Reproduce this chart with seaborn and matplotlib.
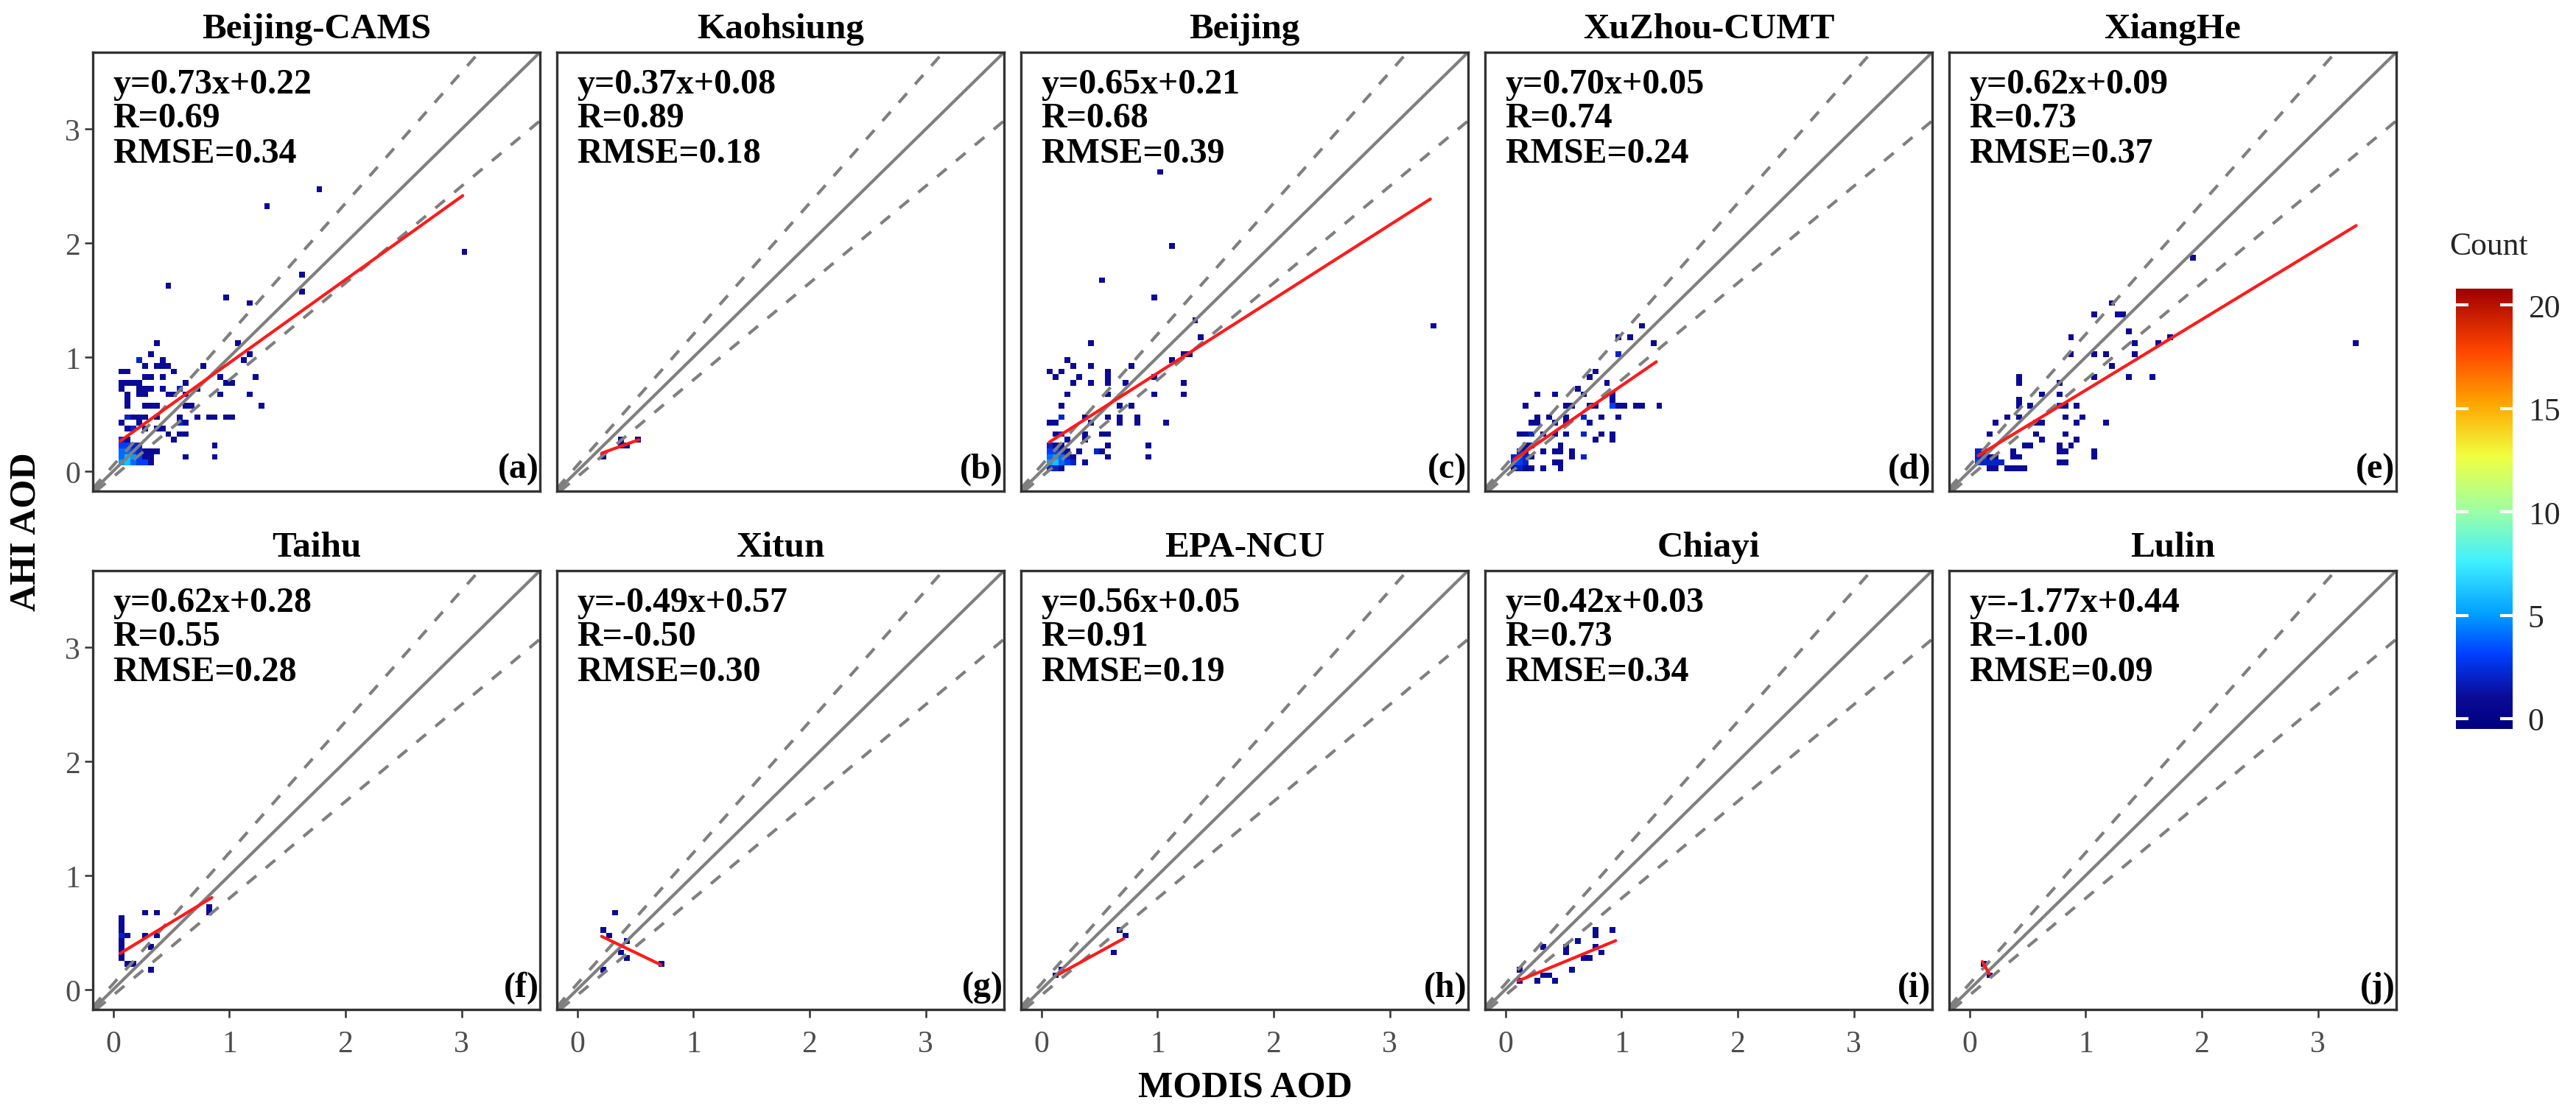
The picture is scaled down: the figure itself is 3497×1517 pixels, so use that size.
import numpy as np
import pandas as pd
import seaborn as sns
import matplotlib.pyplot as plt
from matplotlib.colors import LinearSegmentedColormap, Normalize
from matplotlib.cm import ScalarMappable

# site names, fit stats and panel tags
sites = ["Beijing-CAMS", "Kaohsiung", "Beijing", "XuZhou-CUMT", "XiangHe",
         "Taihu", "Xitun", "EPA-NCU", "Chiayi", "Lulin"]
slopes = [0.73, 0.37, 0.65, 0.70, 0.62, 0.62, -0.49, 0.56, 0.42, -1.77]
intercepts = [0.22, 0.08, 0.21, 0.05, 0.09, 0.28, 0.57, 0.05, 0.03, 0.44]
r_vals = [0.69, 0.89, 0.68, 0.74, 0.73, 0.55, -0.50, 0.91, 0.73, -1.00]
rmse_vals = [0.34, 0.18, 0.39, 0.24, 0.37, 0.28, 0.30, 0.19, 0.34, 0.09]
tags = ["(a)", "(b)", "(c)", "(d)", "(e)", "(f)", "(g)", "(h)", "(i)", "(j)"]

# binned cells: (MODIS AOD, AHI AOD, count)
beijing_cams = [
    (0.075, 0.075, 5), (0.125, 0.075, 6), (0.175, 0.075, 4), (0.225, 0.075, 3),
    (0.075, 0.125, 4), (0.125, 0.125, 6), (0.175, 0.125, 5), (0.225, 0.125, 3),
    (0.075, 0.175, 4), (0.125, 0.175, 4), (0.175, 0.175, 3), (0.225, 0.175, 2),
    (0.075, 0.225, 3), (0.125, 0.225, 3), (0.175, 0.225, 2), (0.225, 0.225, 2),
    (0.275, 0.075, 2), (0.275, 0.125, 1), (0.325, 0.175, 1), (0.075, 0.275, 2),
    (0.125, 0.275, 1), (0.29, 0.17, 1), (0.38, 0.17, 1), (0.35, 0.10, 1),
    (0.29, 0.05, 1), (0.34, 0.05, 1),
    (0.48, 1.63, 1), (0.99, 1.53, 1), (1.19, 1.49, 1), (1.64, 1.71, 1),
    (1.60, 1.58, 1), (1.09, 1.15, 1), (1.13, 0.98, 1), (1.18, 1.0, 1),
    (1.24, 0.83, 1), (1.19, 0.65, 1), (1.28, 0.60, 1), (1.04, 0.78, 1),
    (0.97, 0.77, 1), (0.90, 0.65, 1), (0.95, 0.83, 1), (0.76, 0.91, 1),
    (0.71, 0.72, 1), (0.72, 0.49, 1), (0.80, 0.49, 1), (0.86, 0.45, 1),
    (0.99, 0.49, 1), (1.04, 0.45, 1), (0.86, 0.22, 1), (0.87, 0.11, 1),
    (0.63, 0.11, 1), (0.39, 1.12, 1), (0.35, 1.03, 1), (0.21, 0.97, 2),
    (0.25, 0.92, 1), (0.43, 0.97, 1), (0.43, 0.91, 1), (0.39, 0.91, 1),
    (0.48, 0.91, 1), (0.54, 0.86, 1), (0.07, 0.86, 1), (0.12, 0.86, 1),
    (0.25, 0.83, 1), (0.35, 0.83, 1), (0.43, 0.83, 1), (0.06, 0.78, 1),
    (0.12, 0.78, 1), (0.18, 0.78, 1), (0.23, 0.78, 1), (0.06, 0.73, 1),
    (0.20, 0.73, 1), (0.26, 0.73, 1), (0.35, 0.73, 1), (0.43, 0.73, 1),
    (0.49, 0.70, 1), (0.55, 0.73, 1), (0.59, 0.73, 1), (0.63, 0.78, 1),
    (0.12, 0.68, 1), (0.12, 0.63, 1), (0.12, 0.58, 1), (0.20, 0.69, 1),
    (0.25, 0.65, 1), (0.54, 0.65, 1), (0.63, 0.68, 1), (0.68, 0.59, 1),
    (0.62, 0.55, 1), (0.26, 0.55, 1), (0.31, 0.55, 1), (0.36, 0.55, 1),
    (0.06, 0.41, 1), (0.11, 0.46, 2), (0.17, 0.45, 1), (0.21, 0.45, 1),
    (0.29, 0.45, 1), (0.37, 0.45, 1), (0.11, 0.36, 1), (0.16, 0.36, 2),
    (0.21, 0.40, 1), (0.30, 0.36, 1), (0.36, 0.36, 1), (0.44, 0.36, 1),
    (0.48, 0.32, 1), (0.54, 0.27, 1), (0.59, 0.31, 1), (0.63, 0.35, 1),
    (0.59, 0.48, 1), (0.59, 0.42, 1), (0.55, 0.42, 1), (0.64, 0.42, 1),
    (1.75, 2.47, 1), (1.32, 2.33, 1), (3.01, 1.92, 1),
]
kaohsiung = [
    (0.21, 0.14, 1), (0.36, 0.22, 1), (0.38, 0.27, 1), (0.41, 0.22, 1),
    (0.53, 0.27, 1),
]
beijing = [
    (0.075, 0.075, 5), (0.125, 0.075, 6), (0.175, 0.075, 4), (0.225, 0.075, 3),
    (0.275, 0.075, 2), (0.075, 0.125, 4), (0.125, 0.125, 5), (0.175, 0.125, 4),
    (0.225, 0.125, 2), (0.275, 0.125, 1), (0.075, 0.175, 3), (0.125, 0.175, 3),
    (0.175, 0.175, 2), (0.225, 0.175, 1), (0.075, 0.025, 2), (0.125, 0.025, 2),
    (0.175, 0.025, 1), (0.325, 0.175, 1), (0.075, 0.225, 2), (0.125, 0.225, 1),
    (0.175, 0.225, 1),
    (0.54, 1.67, 1), (0.97, 1.53, 1), (1.30, 1.33, 1), (1.35, 1.20, 1),
    (0.41, 1.11, 1), (1.21, 1.03, 1), (1.26, 1.03, 1), (1.15, 0.97, 1),
    (0.21, 0.97, 1), (0.26, 0.91, 1), (0.09, 0.86, 1), (0.18, 0.86, 1),
    (0.13, 0.82, 1), (0.31, 0.83, 1), (0.26, 0.78, 1), (0.41, 0.91, 1),
    (0.41, 0.78, 1), (0.59, 0.87, 1), (0.55, 0.82, 1), (0.55, 0.78, 1),
    (0.78, 0.91, 1), (0.74, 0.78, 1), (0.97, 0.83, 1), (1.21, 0.78, 1),
    (0.22, 0.69, 1), (0.18, 0.60, 1), (0.55, 0.65, 1), (0.75, 0.60, 1),
    (0.70, 0.55, 1), (0.97, 0.65, 1), (1.21, 0.65, 1), (0.60, 0.49, 1),
    (0.70, 0.49, 1), (0.82, 0.49, 1), (1.07, 0.44, 1), (0.82, 0.40, 1),
    (0.65, 0.40, 1), (0.17, 0.45, 2), (0.11, 0.41, 1), (0.07, 0.41, 1),
    (0.37, 0.45, 1), (0.41, 0.44, 1), (0.13, 0.31, 1), (0.19, 0.35, 2),
    (0.23, 0.29, 1), (0.36, 0.35, 1), (0.37, 0.29, 1), (0.51, 0.35, 1),
    (0.60, 0.31, 1), (0.60, 0.22, 1), (0.60, 0.11, 1), (0.46, 0.17, 2),
    (0.51, 0.17, 1), (0.92, 0.22, 1), (0.92, 0.11, 1), (0.37, 0.05, 1),
    (1.02, 2.65, 1), (1.10, 1.98, 1), (3.35, 1.27, 1),
]
xuzhou = [
    (0.075, 0.075, 3), (0.125, 0.075, 3), (0.175, 0.075, 2), (0.075, 0.125, 2),
    (0.125, 0.125, 3), (0.175, 0.125, 2), (0.225, 0.125, 1), (0.125, 0.175, 2),
    (0.175, 0.175, 1), (0.225, 0.225, 1), (0.075, 0.025, 1), (0.125, 0.025, 2),
    (0.175, 0.025, 1), (0.225, 0.025, 1),
    (1.17, 1.25, 1), (0.98, 1.20, 1), (1.06, 1.20, 1), (1.25, 1.15, 1),
    (0.97, 1.03, 2), (0.75, 0.86, 1), (0.74, 0.82, 1), (0.89, 0.78, 1),
    (0.64, 0.73, 1), (0.29, 0.69, 1), (0.42, 0.65, 1), (0.70, 0.65, 1),
    (0.91, 0.69, 1), (0.95, 0.64, 1), (0.18, 0.55, 1), (0.50, 0.60, 1),
    (0.60, 0.60, 1), (0.72, 0.57, 1), (0.78, 0.58, 1), (0.91, 0.59, 1),
    (0.91, 0.55, 2), (0.97, 0.55, 1), (1.01, 0.59, 1), (0.98, 0.49, 1),
    (1.13, 0.56, 1), (1.17, 0.60, 1), (1.30, 0.60, 1), (0.29, 0.49, 1),
    (0.52, 0.49, 1), (0.65, 0.49, 1), (0.65, 0.45, 1), (0.37, 0.45, 1),
    (0.41, 0.40, 1), (0.23, 0.40, 1), (0.28, 0.40, 1), (0.53, 0.40, 1),
    (0.80, 0.45, 1), (0.73, 0.40, 1), (0.70, 0.35, 1), (0.90, 0.35, 1),
    (0.85, 0.31, 1), (0.79, 0.27, 1), (0.90, 0.27, 1), (0.12, 0.31, 1),
    (0.18, 0.31, 1), (0.23, 0.31, 2), (0.34, 0.35, 1), (0.42, 0.31, 1),
    (0.50, 0.31, 1), (0.70, 0.31, 1), (0.19, 0.22, 1), (0.46, 0.22, 1),
    (0.31, 0.17, 1), (0.40, 0.17, 1), (0.46, 0.17, 1), (0.60, 0.18, 1),
    (0.60, 0.11, 1), (0.65, 0.11, 1), (0.70, 0.10, 1), (0.40, 0.08, 1),
    (0.46, 0.08, 1), (0.31, 0.03, 1), (0.45, 0.03, 1),
]
xianghe = [
    (0.075, 0.075, 3), (0.125, 0.075, 2), (0.075, 0.125, 2), (0.125, 0.125, 3),
    (0.175, 0.075, 2), (0.225, 0.075, 2), (0.275, 0.075, 2), (0.175, 0.125, 1),
    (0.225, 0.125, 1), (0.075, 0.175, 2), (0.125, 0.175, 1), (0.175, 0.025, 1),
    (0.225, 0.025, 1), (0.325, 0.025, 1), (0.375, 0.025, 1), (0.425, 0.025, 1),
    (0.475, 0.025, 1), (0.36, 0.18, 1), (0.36, 0.11, 1), (0.43, 0.11, 1),
    (1.23, 1.49, 1), (1.05, 1.40, 1), (1.29, 1.40, 1), (1.33, 1.40, 1),
    (1.37, 1.24, 1), (1.73, 1.20, 1), (0.89, 1.16, 1), (1.41, 1.12, 1),
    (1.60, 1.12, 1), (0.89, 1.03, 1), (1.09, 1.03, 1), (1.18, 1.03, 1),
    (1.41, 1.03, 1), (1.22, 0.92, 1), (0.77, 0.78, 1), (1.05, 0.82, 1),
    (1.37, 0.82, 1), (1.55, 0.82, 1), (0.42, 0.81, 1), (0.42, 0.77, 1),
    (0.42, 0.64, 1), (0.42, 0.60, 1), (0.53, 0.60, 1), (0.61, 0.65, 1),
    (0.77, 0.65, 1), (0.77, 0.60, 2), (0.80, 0.56, 1), (0.34, 0.49, 1),
    (0.42, 0.49, 1), (0.20, 0.44, 1), (0.59, 0.44, 1), (0.64, 0.40, 1),
    (0.80, 0.49, 1), (0.94, 0.55, 1), (0.99, 0.49, 1), (0.93, 0.44, 1),
    (1.18, 0.44, 1), (0.18, 0.31, 1), (0.59, 0.31, 1), (0.62, 0.27, 1),
    (0.85, 0.31, 1), (0.48, 0.22, 1), (0.53, 0.22, 1), (0.94, 0.26, 1),
    (0.89, 0.22, 1), (0.76, 0.22, 1), (0.77, 0.18, 1), (0.80, 0.16, 1),
    (1.05, 0.18, 1), (1.05, 0.15, 1), (0.76, 0.07, 1), (0.85, 0.07, 1),
    (1.93, 1.85, 1), (3.33, 1.15, 1),
]
taihu = [
    (0.06, 0.64, 1), (0.06, 0.58, 1), (0.06, 0.53, 1), (0.06, 0.47, 2),
    (0.06, 0.42, 1), (0.06, 0.36, 1), (0.06, 0.31, 1), (0.13, 0.49, 1),
    (0.26, 0.68, 1), (0.39, 0.68, 1), (0.26, 0.49, 1), (0.39, 0.49, 1),
    (0.35, 0.36, 1), (0.09, 0.28, 1), (0.12, 0.24, 1), (0.16, 0.20, 1),
    (0.35, 0.17, 1), (0.81, 0.72, 1), (0.85, 0.70, 1),
]
xitun = [
    (0.34, 0.68, 1), (0.21, 0.54, 1), (0.30, 0.49, 1), (0.40, 0.43, 1),
    (0.38, 0.35, 1), (0.44, 0.27, 1), (0.22, 0.16, 1), (0.72, 0.22, 1),
]
epa_ncu = [
    (0.15, 0.12, 1), (0.18, 0.17, 1), (0.62, 0.32, 1), (0.68, 0.50, 1),
    (0.71, 0.45, 1),
]
chiayi = [
    (0.11, 0.16, 1), (0.15, 0.07, 1), (0.26, 0.07, 1), (0.31, 0.13, 1),
    (0.35, 0.38, 1), (0.39, 0.13, 1), (0.43, 0.07, 1), (0.54, 0.38, 1),
    (0.54, 0.33, 1), (0.62, 0.40, 1), (0.58, 0.16, 1), (0.67, 0.25, 1),
    (0.71, 0.25, 1), (0.77, 0.50, 1), (0.77, 0.45, 1), (0.75, 0.36, 1),
    (0.80, 0.34, 1), (0.95, 0.50, 1),
]
lulin = [(0.11, 0.24, 1), (0.17, 0.14, 1)]

site_cells = [beijing_cams, kaohsiung, beijing, xuzhou, xianghe,
              taihu, xitun, epa_ncu, chiayi, lulin]

count_ticks = [0, 5, 10, 15, 20]
aod_ticks = [0, 1, 2, 3]

sns.set_style("white")
plt.rcParams['font.family'] = ['Liberation Serif', 'DejaVu Serif']

cmap = LinearSegmentedColormap.from_list("count", [
    (0.00, "#000080"), (0.07, "#0A0A96"), (0.17, "#0040FF"), (0.26, "#009FFF"),
    (0.38, "#40F0FF"), (0.50, "#A0FFA0"), (0.62, "#F0FF40"), (0.74, "#FFA500"),
    (0.86, "#FF4500"), (1.00, "#A00000")])
vmin, vmax = -0.5, 20.8

W, H = 3497, 1518
fig = plt.figure(figsize=(W / 300, H / 300), dpi=300)

lim = (-0.175, 3.675)
gray = "#7F7F7F"
bold = dict(fontweight="bold", color="black")

for k, name in enumerate(sites):
    row, col = divmod(k, 5)
    top = 72 if row == 0 else 776
    ax = fig.add_axes([(126 + 630 * col) / W, 1 - (top + 596) / H, 607 / W, 596 / H])
    df = pd.DataFrame(site_cells[k], columns=["modis", "ahi", "n"])
    sns.histplot(data=df, x="modis", y="ahi", weights="n", binwidth=0.05,
                 binrange=((0, 3.5), (0, 3.5)), cmap=cmap, vmin=vmin, vmax=vmax,
                 cbar=False, ax=ax, zorder=1)
    ax.axline((0, 0), slope=1, color=gray, lw=1.0, zorder=2)
    ax.axline((0, 0.05), slope=1.15, color=gray, lw=1.0, ls=(0, (4, 4)), zorder=2)
    ax.axline((0, -0.05), slope=0.85, color=gray, lw=1.0, ls=(0, (4, 4)), zorder=2)
    xs = np.array([df["modis"].min(), df["modis"].max()])
    ax.plot(xs, slopes[k] * xs + intercepts[k], color="#FF1A1A", lw=1.0, zorder=3)

    ax.set_xlim(lim)
    ax.set_ylim(lim)
    ax.set_xlabel("")
    ax.set_ylabel("")
    ax.set_xticks(aod_ticks)
    ax.set_yticks(aod_ticks)
    ax.tick_params(axis="both", direction="out", length=2.6, width=0.6,
                   color="#333333", labelsize=10, labelcolor="#4D4D4D")
    ax.tick_params(axis="x", pad=4)
    ax.tick_params(axis="y", pad=1.5)
    ax.tick_params(bottom=(row == 1), labelbottom=(row == 1),
                   left=(col == 0), labelleft=(col == 0))
    for s in ax.spines.values():
        s.set_color("#333333")
        s.set_linewidth(0.8)

    ax.text(0.5, 1 + 20 / 596, name, transform=ax.transAxes, ha="center",
            va="baseline", fontsize=11.8, **bold)
    lines = ["y=%.2fx+%.2f" % (slopes[k], intercepts[k]),
             "R=%.2f" % r_vals[k], "RMSE=%.2f" % rmse_vals[k]]
    for yb, txt in zip([3.32, 3.02, 2.71], lines):
        ax.text(0.0, yb, txt, ha="left", va="baseline", fontsize=11.5, **bold)
    ax.text(3.665, 0.02, tags[k], ha="right", va="center", fontsize=11.5, **bold)

fig.text(36 / W, 1 - 722 / H, "AHI AOD", rotation=90, ha="center", va="center",
         fontsize=12, **bold)
fig.text(1690 / W, 1 - 1478 / H, "MODIS AOD", ha="center", va="center",
         fontsize=12, **bold)

cax = fig.add_axes([3334 / W, 1 - 991 / H, 77 / W, 598 / H])
cb = fig.colorbar(ScalarMappable(norm=Normalize(vmin, vmax), cmap=cmap), cax=cax,
                  ticks=count_ticks)
cb.outline.set_visible(False)
cax.set_axisbelow(False)
cax.tick_params(direction="in", color="white", length=4, width=1.0,
                left=True, right=True, labelsize=10.5, pad=5)
fig.text(3379 / W, 1 - 335 / H, "Count", ha="center", va="center", fontsize=10.5)

fig.savefig("out.png", dpi=300)
